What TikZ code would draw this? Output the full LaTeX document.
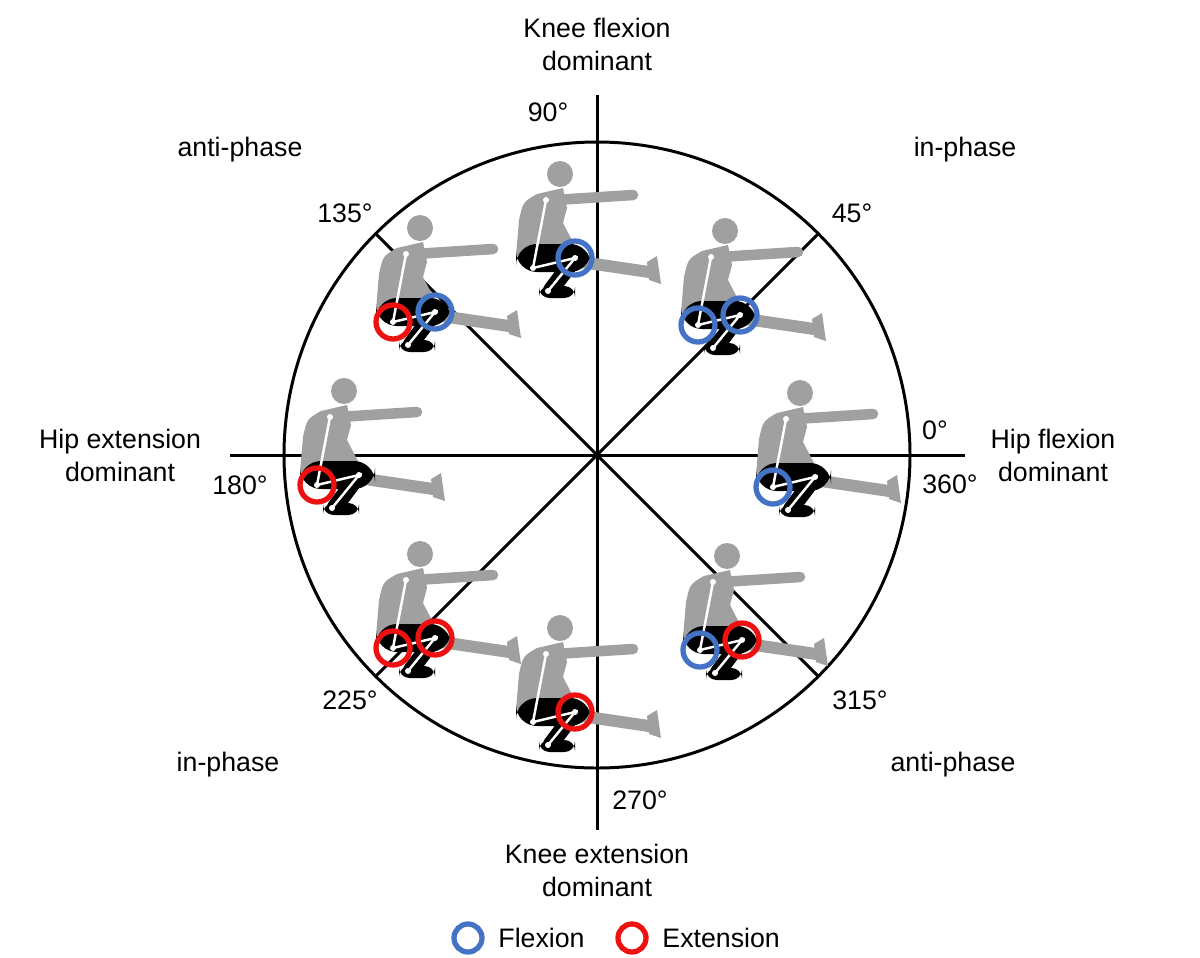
\documentclass[tikz,border=0pt]{standalone}
\usepackage{fontspec}
\setmainfont{Liberation Sans}
\usetikzlibrary{arrows.meta}
\definecolor{flexblue}{HTML}{4472C4}
\definecolor{extred}{HTML}{EE1111}
\definecolor{bodygray}{HTML}{A0A0A0}
\tikzset{
  lbl/.style={font=\fontsize{7.6}{9.4}\selectfont, align=center},
  axis/.style={line width=0.85pt},
  ring/.style={line width=1.5pt, draw=#1},
  bone/.style={white, line width=0.7pt},
}
% squatting figure: hip position, hip ring colour, knee ring colour
\newcommand{\squatter}[4]{%
\begin{scope}[shift={(#1,#2)}]
\fill[bodygray] (27,-94) circle (13);
\fill[bodygray] (-17,-12) -- (-14,-48) .. controls (-10,-66) .. (4,-74) -- (30,-80) -- (34,-60) -- (30,-45) -- (42,-22) -- cycle;
\draw[bodygray, line width=3pt, line cap=round] (22,-68) -- (100,-73);
\draw[bodygray, line width=3.4pt, line cap=round] (48,-6) -- (116,4);
\fill[bodygray] (114,-6) -- (124,-12) -- (128,16) -- (116,12) -- cycle;
\fill[black, rounded corners=6] (-17,-24) rectangle (58,4);
\draw[black, line width=4.5pt, line cap=round] (42,-10) -- (18,22);
\fill[black, rounded corners=3] (6,18) rectangle (42,30);
\draw[bone] (0,0) -- (13,-68);
\draw[bone] (0,0) -- (42,-10) -- (15,23);
\foreach \p in {(0,0),(13,-68),(42,-10),(15,23)} \fill[white] \p circle (3);
\ifx#3n\else\draw[ring=#3] (0,0) circle (17);\fi
\ifx#4n\else\draw[ring=#4] (42,-10) circle (17);\fi
\end{scope}}
\begin{document}
\begin{tikzpicture}[x=0.01cm, y=-0.01cm]
\useasboundingbox (0,0) rectangle (1200,957);
% axes and circle
\coordinate (o) at (597,455);
\draw[axis] (o) circle (313);
\draw[axis] (597,95) -- (597,830);
\draw[axis] (230,455) -- (965,455);
\draw[axis] (o) -- ++(45:313);
\draw[axis] (o) -- ++(135:313);
\draw[axis] (o) -- ++(225:313);
\draw[axis] (o) -- ++(315:313);
% figures
\squatter{533}{268}{n}{flexblue}
\squatter{698}{325}{flexblue}{flexblue}
\squatter{393}{322}{extred}{flexblue}
\squatter{317}{485}{extred}{n}
\squatter{773}{487}{flexblue}{n}
\squatter{393}{648}{extred}{extred}
\squatter{533}{722}{n}{extred}
\squatter{700}{650}{flexblue}{extred}
% labels
\node[lbl] (kf) at (597,44) {Knee flexion\\dominant};
\node[lbl] (a90) at (548,112) {90°};
\node[lbl] (ip1) at (965,150) {in-phase};
\node[lbl] (a45) at (852,213) {45°};
\node[lbl] (ap1) at (240,150) {anti-phase};
\node[lbl] (a135) at (345,213) {135°};
\node[lbl] (he) at (120,455) {Hip extension\\dominant};
\node[lbl] (a180) at (240,485) {180°};
\node[lbl] (a0) at (935,430) {0°};
\node[lbl] (hf) at (1053,455) {Hip flexion\\dominant};
\node[lbl] (a360) at (950,484) {360°};
\node[lbl] (a225) at (350,700) {225°};
\node[lbl] (a315) at (860,700) {315°};
\node[lbl] (ip2) at (228,765) {in-phase};
\node[lbl] (ap2) at (953,765) {anti-phase};
\node[lbl] (a270) at (640,800) {270°};
\node[lbl] (ke) at (597,870) {Knee extension\\dominant};
% legend
\draw[ring=flexblue] (468,938) circle (14);
\node[lbl, anchor=west] (fl) at (486,938) {Flexion};
\draw[ring=extred] (632,938) circle (14);
\node[lbl, anchor=west] (ex) at (650,938) {Extension};
\end{tikzpicture}
\end{document}
